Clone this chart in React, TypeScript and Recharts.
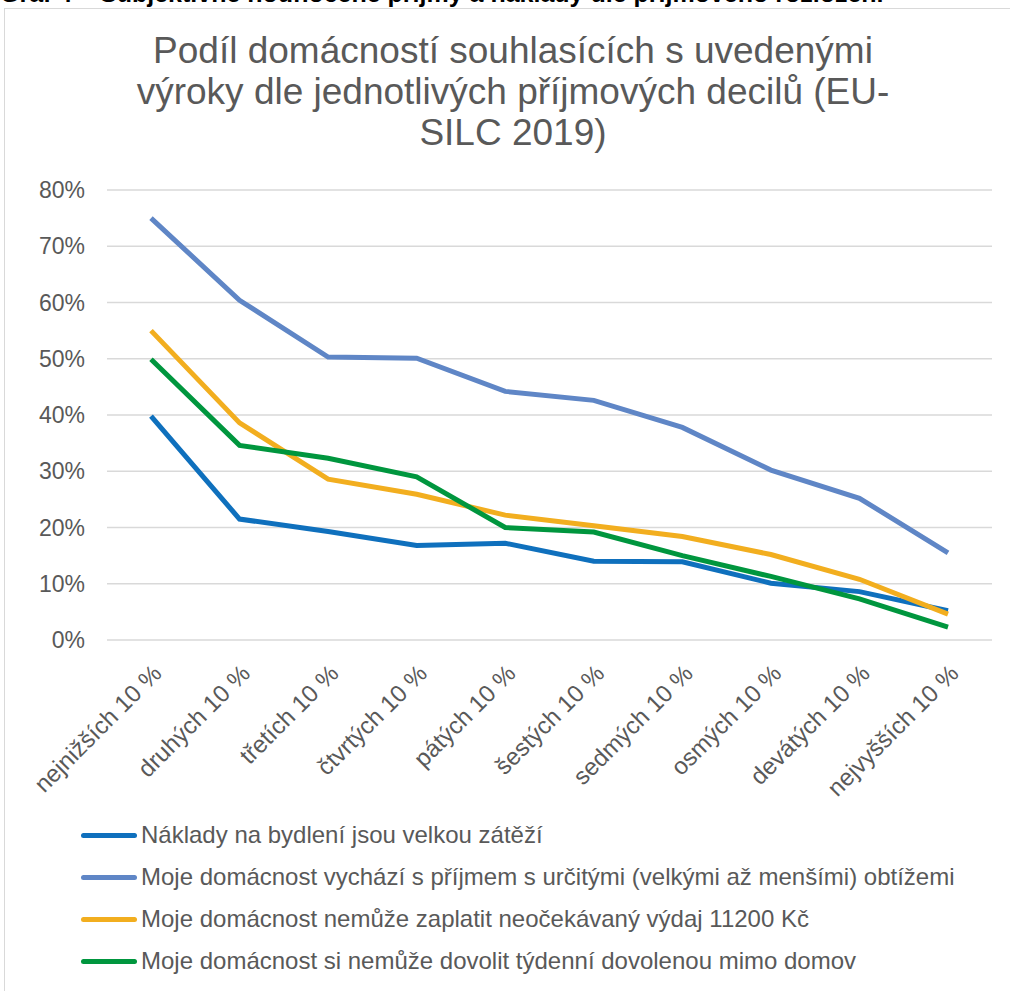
import React from 'react';
import { LineChart, Line, XAxis, YAxis, CartesianGrid } from 'recharts';

const categories = [
  'nejnižších 10 %', 'druhých 10 %', 'třetích 10 %', 'čtvrtých 10 %', 'pátých 10 %',
  'šestých 10 %', 'sedmých 10 %', 'osmých 10 %', 'devátých 10 %', 'nejvyšších 10 %',
];
const naklady = [39.8, 21.5, 19.3, 16.8, 17.2, 14.0, 13.9, 10.1, 8.6, 5.2];
const obtize = [75.0, 60.4, 50.3, 50.1, 44.2, 42.6, 37.8, 30.2, 25.2, 15.5];
const vydaj = [55.0, 38.6, 28.6, 25.9, 22.2, 20.3, 18.4, 15.2, 10.8, 4.6];
const dovolena = [49.9, 34.6, 32.3, 29.0, 20.0, 19.2, 15.0, 11.3, 7.3, 2.3];
const yTicks = [0, 10, 20, 30, 40, 50, 60, 70, 80];

const series = [
  { key: 'naklady', name: 'Náklady na bydlení jsou velkou zátěží', color: '#0F70BD', values: naklady },
  { key: 'obtize', name: 'Moje domácnost vychází s příjmem s určitými (velkými až menšími) obtížemi', color: '#5F86C6', values: obtize },
  { key: 'vydaj', name: 'Moje domácnost nemůže zaplatit neočekávaný výdaj 11200 Kč', color: '#F2AE1F', values: vydaj },
  { key: 'dovolena', name: 'Moje domácnost si nemůže dovolit týdenní dovolenou mimo domov', color: '#00963E', values: dovolena },
];

const data = categories.map((c, i) => {
  const row: Record<string, any> = { cat: c };
  series.forEach((s) => { row[s.key] = s.values[i]; });
  return row;
});

const FONT = '"Liberation Sans", Arial, sans-serif';
const GRAY = '#595959';

const XTick = (props: any) => {
  const { x, y, payload } = props;
  return (
    <g transform={`translate(${x + 12},${y + 27})`}>
      <text textAnchor="end" transform="rotate(-45)" fontSize={24} fill={GRAY} fontFamily={FONT}>
        {payload.value}
      </text>
    </g>
  );
};

export default function App() {
  return (
    <div style={{ position: 'absolute', left: 0, top: 0, width: 1010, height: 991, overflow: 'hidden', background: '#fff', fontFamily: FONT }}>
      <div style={{ position: 'absolute', left: 0, top: -19, whiteSpace: 'nowrap', fontSize: 25, lineHeight: '25px', fontWeight: 'bold', color: '#000' }}>
        Graf 4 – Subjektivně hodnocené příjmy a náklady dle příjmového rozložení
      </div>
      <div style={{ position: 'absolute', left: 4, top: 8, width: 1100, height: 1100, border: '1.5px solid #D9D9D9' }} />
      <div style={{ position: 'absolute', left: 8, top: 30, width: 1010, textAlign: 'center', fontSize: 37, lineHeight: '41px', color: GRAY }}>
        Podíl domácností souhlasících s uvedenými<br />
        výroky dle jednotlivých příjmových decilů (EU-<br />
        SILC 2019)
      </div>
      <div style={{ position: 'absolute', left: 0, top: 0 }}>
        <LineChart width={1010} height={800} data={data} margin={{ top: 190, right: 18, bottom: 0, left: 0 }}>
          <CartesianGrid vertical={false} stroke="#D9D9D9" strokeWidth={1.5} />
          <XAxis
            dataKey="cat"
            interval={0}
            height={160}
            tickLine={false}
            axisLine={false}
            tick={<XTick />}
            padding={{ left: 44, right: 44 }}
          />
          <YAxis
            domain={[0, 80]}
            ticks={yTicks}
            width={107}
            tickLine={false}
            axisLine={false}
            tickFormatter={(v: number) => `${v}%`}
            tick={{ fontSize: 23, fill: GRAY, fontFamily: FONT }}
            tickMargin={16}
          />
          {series.map((s) => (
            <Line
              key={s.key}
              dataKey={s.key}
              name={s.name}
              stroke={s.color}
              strokeWidth={5}
              dot={false}
              activeDot={false}
              isAnimationActive={false}
              type="linear"
            />
          ))}
        </LineChart>
      </div>
      <div style={{ position: 'absolute', left: 81, top: 814 }}>
        {series.map((s) => (
          <div key={s.key} style={{ display: 'flex', alignItems: 'center', height: 42, whiteSpace: 'nowrap' }}>
            <div style={{ width: 56, height: 5, background: s.color, borderRadius: 2.5, marginRight: 4 }} />
            <span style={{ fontSize: 24, color: GRAY }}>{s.name}</span>
          </div>
        ))}
      </div>
    </div>
  );
}
